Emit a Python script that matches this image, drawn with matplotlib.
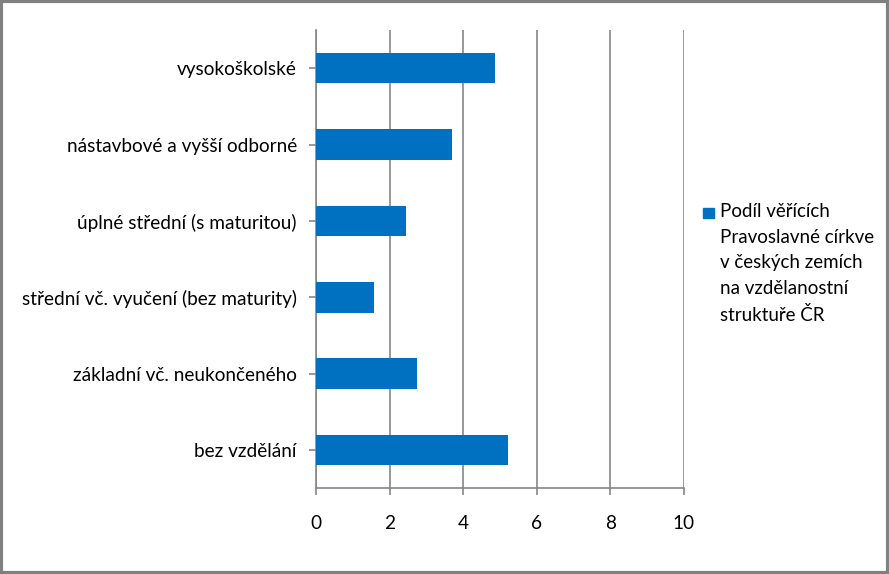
import matplotlib.pyplot as plt
from matplotlib.patches import Rectangle

# data
kategorie = ['bez vzdělání', 'základní vč. neukončeného',
             'střední vč. vyučení (bez maturity)', 'úplné střední (s maturitou)',
             'nástavbové a vyšší odborné', 'vysokoškolské']
podil = [5.22, 2.74, 1.57, 2.45, 3.69, 4.86]
x_ticks = [0, 2, 4, 6, 8, 10]
legenda = 'Podíl věřících\nPravoslavné církve\nv českých zemích\nna vzdělanostní\nstruktuře ČR'

modra = '#0070C0'
seda = '#868686'

plt.rcParams['font.family'] = ['Lato', 'DejaVu Sans']

fig = plt.figure(figsize=(8.89, 5.74), dpi=100)
ax = fig.add_axes([0.3558, 0.1493, 0.4134, 0.7984])

ax.barh(range(len(kategorie)), podil, height=0.4, color=modra, zorder=3)
ax.set_ylim(-0.5, len(kategorie) - 0.5)
ax.set_xlim(0, 10)
ax.set_xticks(x_ticks)
ax.set_yticks(range(len(kategorie)))
ax.set_yticklabels(kategorie)
ax.grid(axis='x', color=seda, linewidth=1.2, zorder=0)

for s in ['top', 'right']:
    ax.spines[s].set_visible(False)
for s in ['left', 'bottom']:
    ax.spines[s].set_color(seda)
    ax.spines[s].set_linewidth(1.2)
ax.tick_params(axis='both', colors=seda, length=5, width=1.2, labelsize=13.7,
               labelcolor='black')
ax.tick_params(axis='y', pad=9)
ax.tick_params(axis='x', pad=14)

# legenda vpravo
fig.patches.append(Rectangle((703 / 889, 1 - 218 / 574), 11 / 889, 10 / 574,
                             transform=fig.transFigure, color=modra))
fig.text(720 / 889, 1 - 203 / 574, legenda, fontsize=13.5, va='top', ha='left',
         linespacing=1.62)

# ramecek kolem obrazku
fig.patches.append(Rectangle((0.0015, 0.002), 0.997, 0.996, transform=fig.transFigure,
                             fill=False, edgecolor='#808080', linewidth=3))

fig.savefig('out.png', dpi=100)
